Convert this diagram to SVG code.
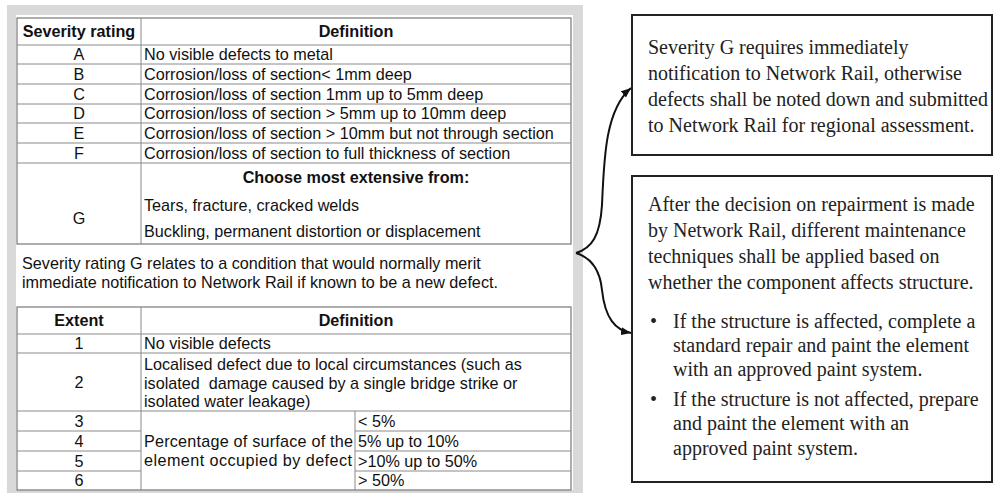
<svg xmlns="http://www.w3.org/2000/svg" width="994" height="493" viewBox="0 0 994 493">
<style>
.t{font-family:"Liberation Sans",Arial,sans-serif;font-size:16.2px;fill:#111}
.b{font-weight:bold}
.m{text-anchor:middle}
.g{stroke:#8a8a8a;stroke-width:1;fill:none}
.o{stroke:#777;stroke-width:1.2;fill:none}
.s{font-family:"Liberation Serif","Times New Roman",serif;font-size:20px;fill:#222}
.box{fill:#fff;stroke:#222;stroke-width:2}
.c{fill:none;stroke:#111;stroke-width:2}
</style>
<defs>
<marker id="ah" viewBox="0 0 10 8" refX="10" refY="4" markerWidth="10" markerHeight="8" markerUnits="userSpaceOnUse" orient="auto">
<path d="M0,0 L10,4 L0,8 z" fill="#111"/>
</marker>
</defs>
<rect width="994" height="493" fill="#fff"/>
<g id="panel">
<rect x="7" y="5" width="576" height="490" fill="#d9d9d9"/>
<rect x="16" y="15" width="557" height="475" fill="#fff"/>
</g>
<g id="severity-table">
<rect class="o" x="17" y="18" width="554" height="226"/>
<path class="g" d="M141,18V244M17,45H571M17,64H571M17,84H571M17,104H571M17,123H571M17,143H571M17,163H571"/>
<text class="t b m" x="79" y="37">Severity rating</text>
<text class="t b m" x="356" y="37">Definition</text>
<text class="t m" x="79" y="60">A</text>
<text class="t m" x="79" y="80">B</text>
<text class="t m" x="79" y="100">C</text>
<text class="t m" x="79" y="119">D</text>
<text class="t m" x="79" y="139">E</text>
<text class="t m" x="79" y="159">F</text>
<text class="t m" x="79" y="224">G</text>
<text class="t" x="144" y="60">No visible defects to metal</text>
<text class="t" x="144" y="80">Corrosion/loss of section&lt; 1mm deep</text>
<text class="t" x="144" y="100">Corrosion/loss of section 1mm up to 5mm deep</text>
<text class="t" x="144" y="119">Corrosion/loss of section &gt; 5mm up to 10mm deep</text>
<text class="t" x="144" y="139">Corrosion/loss of section &gt; 10mm but not through section</text>
<text class="t" x="144" y="159">Corrosion/loss of section to full thickness of section</text>
<text class="t b m" x="356" y="183">Choose most extensive from:</text>
<text class="t" x="144" y="211">Tears, fracture, cracked welds</text>
<text class="t" x="144" y="237">Buckling, permanent distortion or displacement</text>
</g>
<g id="note">
<text class="t" x="22" y="269">Severity rating G relates to a condition that would normally merit</text>
<text class="t" x="22" y="288">immediate notification to Network Rail if known to be a new defect.</text>
</g>
<g id="extent-table">
<rect class="o" x="17" y="307" width="554" height="183"/>
<path class="g" d="M141,307V490M355,411V490M17,334H571M17,353H571M17,411H571M17,431H141M17,451H141M17,471H141M355,431H571M355,451H571M355,471H571"/>
<text class="t b m" x="79" y="326">Extent</text>
<text class="t b m" x="356" y="326">Definition</text>
<text class="t m" x="79" y="349">1</text>
<text class="t m" x="79" y="388">2</text>
<text class="t m" x="79" y="427">3</text>
<text class="t m" x="79" y="447">4</text>
<text class="t m" x="79" y="467">5</text>
<text class="t m" x="79" y="486">6</text>
<text class="t" x="144" y="349">No visible defects</text>
<text class="t" x="144" y="370">Localised defect due to local circumstances (such as</text>
<text class="t" x="144" y="388.5" xml:space="preserve">isolated  damage caused by a single bridge strike or</text>
<text class="t" x="144" y="407">isolated water leakage)</text>
<text class="t" x="144" y="447" textLength="209" lengthAdjust="spacing">Percentage of surface of the</text>
<text class="t" x="144" y="466" textLength="208" lengthAdjust="spacing">element occupied by defect</text>
<text class="t" x="358" y="427">&lt; 5%</text>
<text class="t" x="358" y="447">5% up to 10%</text>
<text class="t" x="358" y="467">&gt;10% up to 50%</text>
<text class="t" x="358" y="486">&gt; 50%</text>
</g>
<g id="box-notification">
<rect class="box" x="632" y="15" width="360" height="140"/>
<text class="s" x="648" y="54">Severity G requires immediately</text>
<text class="s" x="648" y="80">notification to Network Rail, otherwise</text>
<text class="s" x="648" y="106">defects shall be noted down and submitted</text>
<text class="s" x="648" y="132">to Network Rail for regional assessment.</text>
</g>
<g id="box-maintenance">
<rect class="box" x="632" y="176" width="360" height="306"/>
<text class="s" x="648" y="211">After the decision on repairment is made</text>
<text class="s" x="648" y="237">by Network Rail, different maintenance</text>
<text class="s" x="648" y="263">techniques shall be applied based on</text>
<text class="s" x="648" y="289">whether the component affects structure.</text>
<text class="s" x="650" y="328">•</text>
<text class="s" x="673" y="328">If the structure is affected, complete a</text>
<text class="s" x="673" y="352">standard repair and paint the element</text>
<text class="s" x="673" y="376">with an approved paint system.</text>
<text class="s" x="650" y="406">•</text>
<text class="s" x="673" y="406">If the structure is not affected, prepare</text>
<text class="s" x="673" y="430">and paint the element with an</text>
<text class="s" x="673" y="455">approved paint system.</text>
</g>
<g id="connectors">
<path class="c" d="M576,253 C592,248 600,236 602,205 C604,160 605,110 631,88" marker-end="url(#ah)"/>
<path class="c" d="M576,253 C592,258 600,270 602,290 C605,318 615,330 631,333" marker-end="url(#ah)"/>
</g>
</svg>
